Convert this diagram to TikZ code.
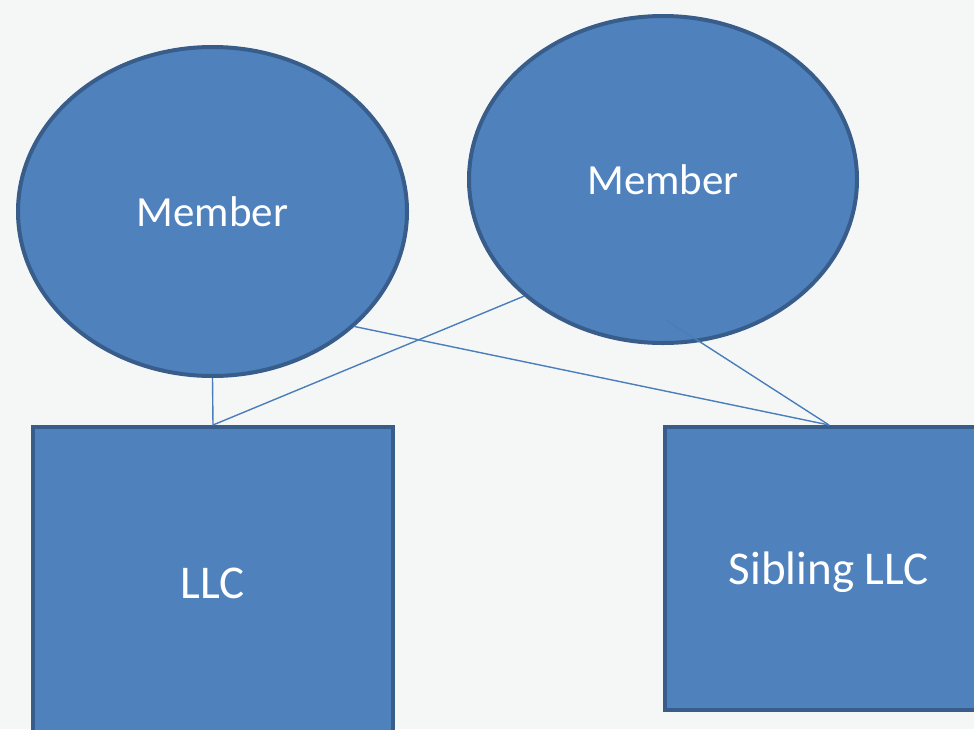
\documentclass[tikz,border=0pt]{standalone}
\usepackage{fontspec}
\setmainfont{Carlito}
\usetikzlibrary{shapes.geometric,calc}
\definecolor{bg}{HTML}{F5F7F7}
\definecolor{shapefill}{HTML}{4F81BD}
\definecolor{shapeedge}{HTML}{385D8A}
\definecolor{linkcol}{HTML}{4A7EBB}
\begin{document}
\begin{tikzpicture}[x=1pt,y=-1pt,
  blob/.style={ellipse, draw=shapeedge, fill=shapefill, line width=4pt,
    inner sep=0pt, text=white, font=\fontsize{43}{48}\selectfont},
  entity/.style={rectangle, draw=shapeedge, fill=shapefill, line width=4pt,
    inner sep=0pt, text=white, font=\fontsize{47}{52}\selectfont},
  link/.style={draw=linkcol, line width=1.4pt}]
  \useasboundingbox (0,0) rectangle (974,729);
  \fill[bg] (0,0) rectangle (974,729);
  \clip (0,0) rectangle (974,729);

  % owners
  \node[blob, minimum width=389pt, minimum height=329pt] (m1) at (212.5,211.5) {Member};
  \node[blob, minimum width=388pt, minimum height=327pt] (m2) at (663,179.5) {Member};

  % companies
  \node[entity, minimum width=360pt, minimum height=312pt] (llc) at (213,583) {LLC};
  \node[entity, minimum width=328pt, minimum height=283pt, text depth=0pt] (sib) at (829,568.5) {Sibling LLC};

  % ownership links
  \coordinate (m2inner) at ($(m2.south)+(3,-25)$);
  \draw[link] (m1.south) -- (llc.north);
  \draw[link] (m2.220) -- (llc.north);
  \draw[link] (m1.-39) -- (sib.north);
  \draw[link] (m2inner) -- (sib.north);
\end{tikzpicture}
\end{document}
